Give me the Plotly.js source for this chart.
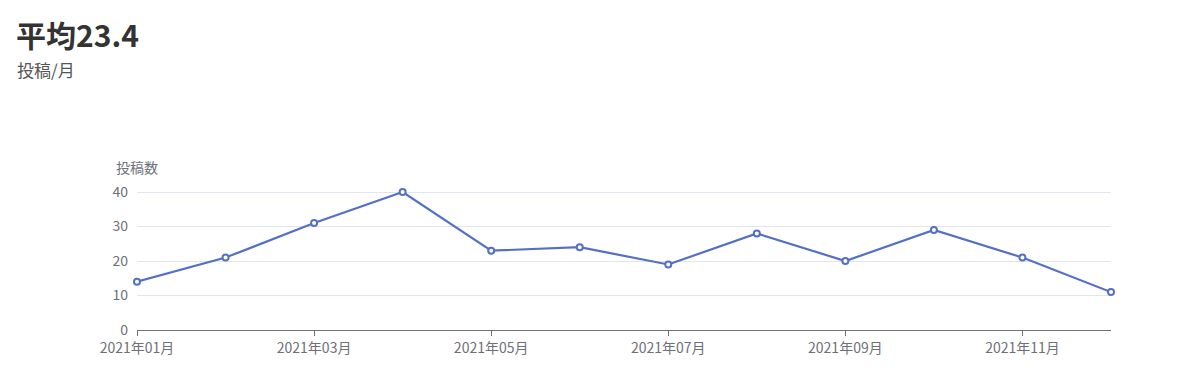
<!DOCTYPE html>
<html>
<head>
<meta charset="utf-8">
<script src="https://cdn.plot.ly/plotly-3.0.1.min.js"></script>
<style>html,body{margin:0;padding:0;background:#fff;}#chart{width:1200px;height:387px;}</style>
</head>
<body>
<div id="chart"></div>
<script>
const months = ["2021年01月","2021年02月","2021年03月","2021年04月","2021年05月","2021年06月","2021年07月","2021年08月","2021年09月","2021年10月","2021年11月","2021年12月"];
const posts = [14, 21, 31, 40, 23, 24, 19, 28, 20, 29, 21, 11];
const tickMonths = ["2021年01月","2021年03月","2021年05月","2021年07月","2021年09月","2021年11月"];
const titleText = "平均23.4";
const subtitleText = "投稿/月";
const yTitle = "投稿数";

const font = "'Noto Sans CJK JP', 'Noto Sans', sans-serif";
const L = 137, R = 89, T = 191, B = 57, W = 1200, H = 387;
const pw = W - L - R, ph = H - T - B;
const px = x => (x - L) / pw;
const py = y => (H - B - y) / ph;

const trace = {
  x: months, y: posts, type: 'scatter', mode: 'lines+markers',
  line: {color: '#5470c6', width: 2.2},
  marker: {symbol: 'circle', size: 6, color: '#fff', line: {color: '#5470c6', width: 2}},
  cliponaxis: false, hoverinfo: 'x+y'
};

const layout = {
  width: W, height: H,
  margin: {l: L, r: R, t: T, b: B, pad: 0},
  paper_bgcolor: '#fff', plot_bgcolor: '#fff',
  showlegend: false,
  font: {family: font, color: '#6E7079', size: 14},
  xaxis: {
    type: 'category', range: [0, 11], categoryarray: months,
    tickvals: tickMonths, ticktext: tickMonths,
    showgrid: false, zeroline: false,
    showline: true, linecolor: '#6E7079', linewidth: 1,
    ticks: 'outside', ticklen: 5, tickcolor: '#6E7079',
    tickfont: {family: font, size: 14, color: '#6E7079'}
  },
  yaxis: {
    range: [0, 40.3], tickvals: [0, 10, 20, 30, 40],
    showgrid: true, gridcolor: '#E0E6F1', gridwidth: 1,
    zeroline: false, showline: false, ticks: '',
    ticklabelstandoff: 8,
    tickfont: {family: font, size: 14, color: '#6E7079'}
  },
  annotations: [
    {text: '<b>' + titleText + '</b>', xref: 'paper', yref: 'paper', x: px(14), y: py(10),
     xanchor: 'left', yanchor: 'top', showarrow: false,
     font: {family: font, size: 30, color: '#333'}},
    {text: subtitleText, xref: 'paper', yref: 'paper', x: px(15), y: py(55),
     xanchor: 'left', yanchor: 'top', showarrow: false,
     font: {family: font, size: 17, color: '#555'}},
    {text: yTitle, xref: 'paper', yref: 'paper', x: px(137), y: py(167),
     xanchor: 'center', yanchor: 'middle', showarrow: false,
     font: {family: font, size: 14, color: '#6E7079'}}
  ]
};

Plotly.newPlot('chart', [trace], layout, {displayModeBar: false, staticPlot: true});
</script>
</body>
</html>
